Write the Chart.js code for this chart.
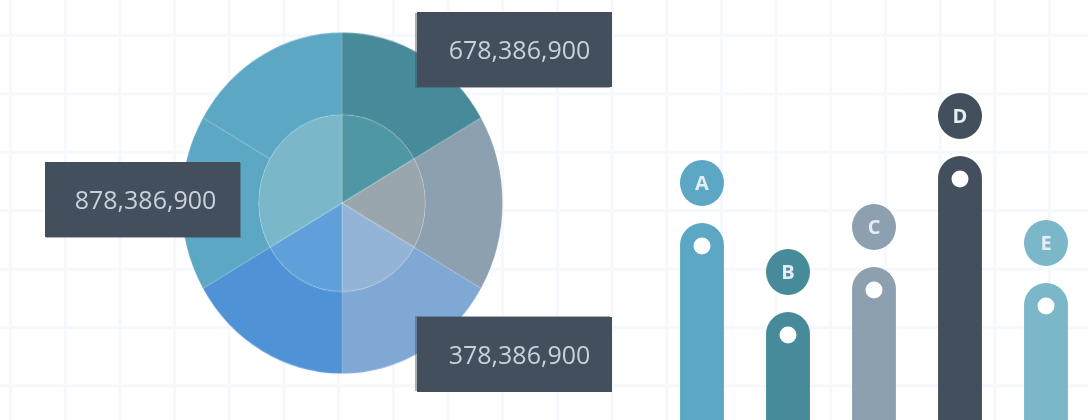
<!DOCTYPE html>
<html>
<head>
<meta charset="utf-8">
<script src="https://cdn.jsdelivr.net/npm/chart.js@4"></script>
<style>
  html, body { margin: 0; padding: 0; }
  body {
    width: 1088px; height: 420px; overflow: hidden; position: relative;
    background-color: #fff;
    background-image:
      linear-gradient(to right, #f5f8fc 3px, transparent 3px),
      linear-gradient(to bottom, #f5f8fc 3px, transparent 3px);
    background-size: 54.7px 58.4px;
    background-position: 9px 34px;
    font-family: "Open Sans", sans-serif;
  }
  #pie {
    position: absolute; left: 181px; top: 32px;
    transform: scaleY(1.0625); transform-origin: 0 0;
  }
  #bars { position: absolute; left: 659px; top: 0; }
  .tag {
    position: absolute; width: 195px; height: 75px; box-sizing: border-box;
    background: #434f5c; color: #c9d1da; font-size: 25px; line-height: 75px;
    text-align: center; padding-left: 10px;
  }
</style>
</head>
<body>
<canvas id="pie" width="322" height="322"></canvas>
<canvas id="bars" width="430" height="420"></canvas>
<div class="tag" id="tag0" style="left:417px;top:12px;box-shadow:-2px 1px 0 rgba(67,79,92,0.45);"></div>
<div class="tag" id="tag1" style="left:45px;top:162px;padding-left:6px;box-shadow:1px 1px 0 rgba(67,79,92,0.45);"></div>
<div class="tag" id="tag2" style="left:417px;top:317px;box-shadow:-2px -1px 0 rgba(67,79,92,0.45);"></div>
<script>
// pie: six equal outer slices, inner disc with the two left slices merged
const outerValues = [1, 1, 1, 1, 1, 1];
const outerColors = ['#478a99', '#8da0b0', '#7fa8d4', '#4f93d6', '#5ba7c4', '#5ba7c4'];
const innerValues = [1, 1, 1, 1, 2];
const innerColors = ['#5097a5', '#9aa6ad', '#93b4d6', '#5fa0da', '#7ab7c9'];
const tagLabels = ['678,386,900', '878,386,900', '378,386,900'];

// bars
const barLabels = ['A', 'B', 'C', 'D', 'E'];
const barValues = [197, 108, 153, 264, 137];
const barColors = ['#5ba7c4', '#478a99', '#8da0b0', '#434f5c', '#7ab7c9'];

tagLabels.forEach((t, i) => {
  document.getElementById('tag' + i).textContent = t;
});

new Chart(document.getElementById('pie'), {
  type: 'pie',
  data: {
    datasets: [
      { data: outerValues, backgroundColor: outerColors, borderColor: 'rgba(255,255,255,0.12)', borderWidth: 1, weight: 1 },
      { data: innerValues, backgroundColor: innerColors, borderColor: 'rgba(255,255,255,0.22)', borderWidth: 1, weight: 1.08 }
    ]
  },
  options: {
    responsive: false,
    devicePixelRatio: 1,
    animation: false,
    plugins: { legend: { display: false }, tooltip: { enabled: false } }
  }
});

const badges = {
  id: 'badges',
  afterDatasetsDraw(chart) {
    const ctx = chart.ctx;
    chart.getDatasetMeta(0).data.forEach((bar, i) => {
      const r = bar.width / 2;
      // letter badge above the bar
      ctx.save();
      ctx.fillStyle = barColors[i];
      ctx.beginPath();
      ctx.ellipse(bar.x, bar.y - 40, 22, 23, 0, 0, Math.PI * 2);
      ctx.fill();
      ctx.fillStyle = '#e6edf4';
      ctx.font = 'bold 20px "Open Sans"';
      ctx.textAlign = 'center';
      ctx.textBaseline = 'middle';
      ctx.fillText(barLabels[i], bar.x, bar.y - 39);
      // white dot in the rounded cap
      ctx.fillStyle = '#ffffff';
      ctx.beginPath();
      ctx.arc(bar.x, bar.y + r + 1, 8.5, 0, Math.PI * 2);
      ctx.fill();
      ctx.restore();
    });
  }
};

new Chart(document.getElementById('bars'), {
  type: 'bar',
  data: {
    labels: barLabels,
    datasets: [{
      data: barValues,
      backgroundColor: barColors,
      borderRadius: { topLeft: 22, topRight: 22, bottomLeft: 0, bottomRight: 0 },
      borderSkipped: 'start',
      barPercentage: 0.51,
      categoryPercentage: 1
    }]
  },
  options: {
    responsive: false,
    devicePixelRatio: 1,
    animation: false,
    layout: { padding: 0 },
    scales: {
      x: { display: false },
      y: { display: false, min: 0, max: 420 }
    },
    plugins: { legend: { display: false }, tooltip: { enabled: false } }
  },
  plugins: [badges]
});
</script>
</body>
</html>
